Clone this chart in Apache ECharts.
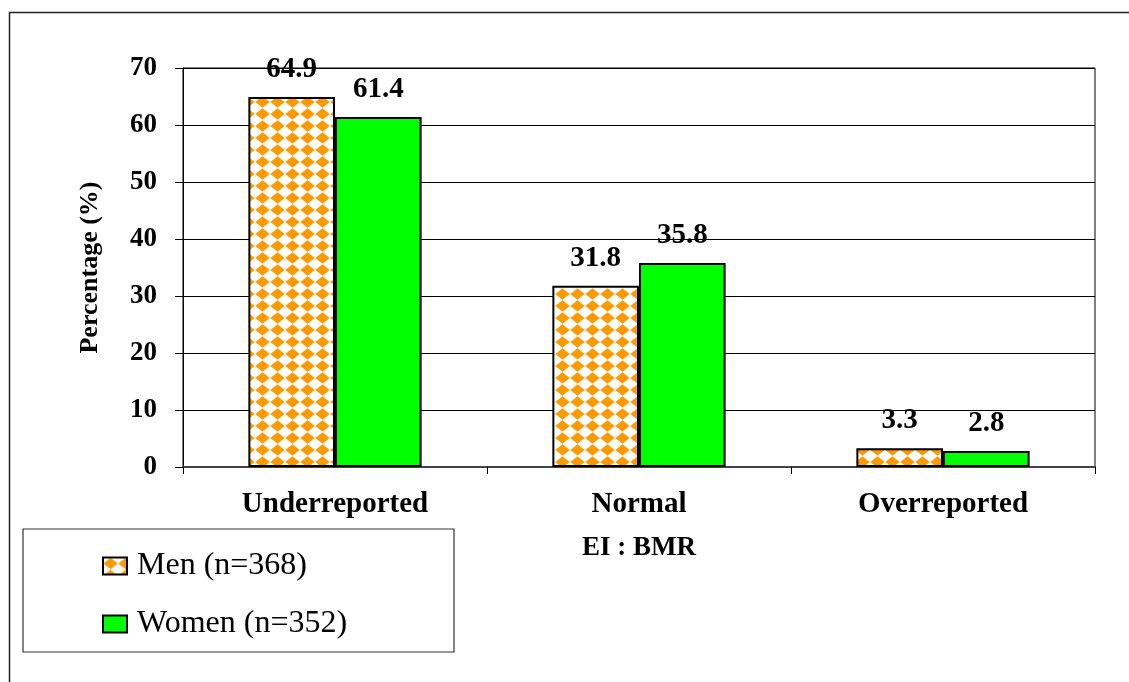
<!DOCTYPE html>
<html>
<head>
<meta charset="utf-8">
<script src="https://cdn.jsdelivr.net/npm/echarts@6/dist/echarts.min.js"></script>
<style>
html,body{margin:0;padding:0;background:#fff;}
#chart{width:1129px;height:682px;}
</style>
</head>
<body>
<div id="chart"></div>
<script>
const categories = ['Underreported', 'Normal', 'Overreported'];
const menValues = [64.9, 31.8, 3.3];
const womenValues = [61.4, 35.8, 2.8];
const seriesNames = ['Men (n=368)', 'Women (n=352)'];
const yTicks = [0, 10, 20, 30, 40, 50, 60, 70];

const SERIF = '"Liberation Serif", "Times New Roman", serif';

// diamond pattern tile
const tile = document.createElement('canvas');
tile.width = 15; tile.height = 12;
(function(){
  const c = tile.getContext('2d');
  c.fillStyle = '#ffffff';
  c.fillRect(0, 0, 15, 12);
  c.fillStyle = '#FF9900';
  c.beginPath();
  c.moveTo(7.5, 0.3);
  c.lineTo(14.7, 6);
  c.lineTo(7.5, 11.7);
  c.lineTo(0.3, 6);
  c.closePath();
  c.fill();
})();

const chart = echarts.init(document.getElementById('chart'), null, {renderer: 'canvas'});

const labelStyle = {
  show: true,
  position: 'top',
  distance: 13,
  color: '#000',
  fontFamily: SERIF,
  fontWeight: 'bold',
  fontSize: 29
};

chart.setOption({
  backgroundColor: '#ffffff',
  animation: false,
  graphic: [
    {
      type: 'rect', left: 7, top: 10, z: -10,
      shape: {x: 0, y: 0, width: 1300, height: 900},
      style: {fill: 'none', stroke: '#222', lineWidth: 1.5}
    },
    {
      type: 'rect', z: 0,
      shape: {x: 23, y: 529, width: 431, height: 123},
      style: {fill: '#fff', stroke: '#333', lineWidth: 1.2}
    }
  ],
  grid: {
    left: 183, right: 34, top: 68, bottom: 215,
    show: true, borderColor: '#000', borderWidth: 1, backgroundColor: 'transparent'
  },
  legend: {
    orient: 'vertical',
    left: 97, top: 545,
    itemWidth: 24, itemHeight: 17,
    itemGap: 26,
    z: 5,
    icon: 'rect',
    data: seriesNames,
    textStyle: {
      fontFamily: SERIF, fontSize: 32, color: '#000',
      padding: [0, 0, 0, 5]
    },
    itemStyle: {borderColor: '#000', borderWidth: 2}
  },
  xAxis: {
    type: 'category',
    data: categories,
    name: 'EI : BMR',
    nameLocation: 'middle',
    nameGap: 68,
    nameTextStyle: {fontFamily: SERIF, fontWeight: 'bold', fontSize: 27, color: '#000'},
    axisLine: {show: true, lineStyle: {color: '#444', width: 2}},
    axisTick: {show: true, interval: 0, alignWithLabel: false, length: 7, lineStyle: {color: '#000', width: 1}},
    axisLabel: {
      interval: 0, margin: 23,
      fontFamily: SERIF, fontWeight: 'bold', fontSize: 29, color: '#000'
    },
    splitLine: {show: false}
  },
  yAxis: {
    type: 'value',
    min: yTicks[0], max: yTicks[yTicks.length - 1], interval: 10,
    name: 'Percentage (%)',
    nameLocation: 'middle',
    nameGap: 80,
    nameRotate: 90,
    nameTextStyle: {fontFamily: SERIF, fontWeight: 'bold', fontSize: 26, color: '#000'},
    axisLine: {show: true, lineStyle: {color: '#000', width: 1}},
    axisTick: {show: true, length: 8, lineStyle: {color: '#000', width: 1}},
    axisLabel: {
      margin: 26,
      fontFamily: SERIF, fontWeight: 'bold', fontSize: 27, color: '#000'
    },
    splitLine: {show: true, lineStyle: {color: '#000', width: 1}}
  },
  series: [
    {
      name: seriesNames[0],
      type: 'bar',
      data: menValues,
      barGap: '0%',
      barCategoryGap: '43%',
      itemStyle: {color: {image: tile, repeat: 'repeat'}, borderColor: '#000', borderWidth: 2},
      label: labelStyle
    },
    {
      name: seriesNames[1],
      type: 'bar',
      data: womenValues,
      barGap: '0%',
      barCategoryGap: '43%',
      itemStyle: {color: '#00FF00', borderColor: '#000', borderWidth: 2},
      label: labelStyle
    }
  ]
});
</script>
</body>
</html>
